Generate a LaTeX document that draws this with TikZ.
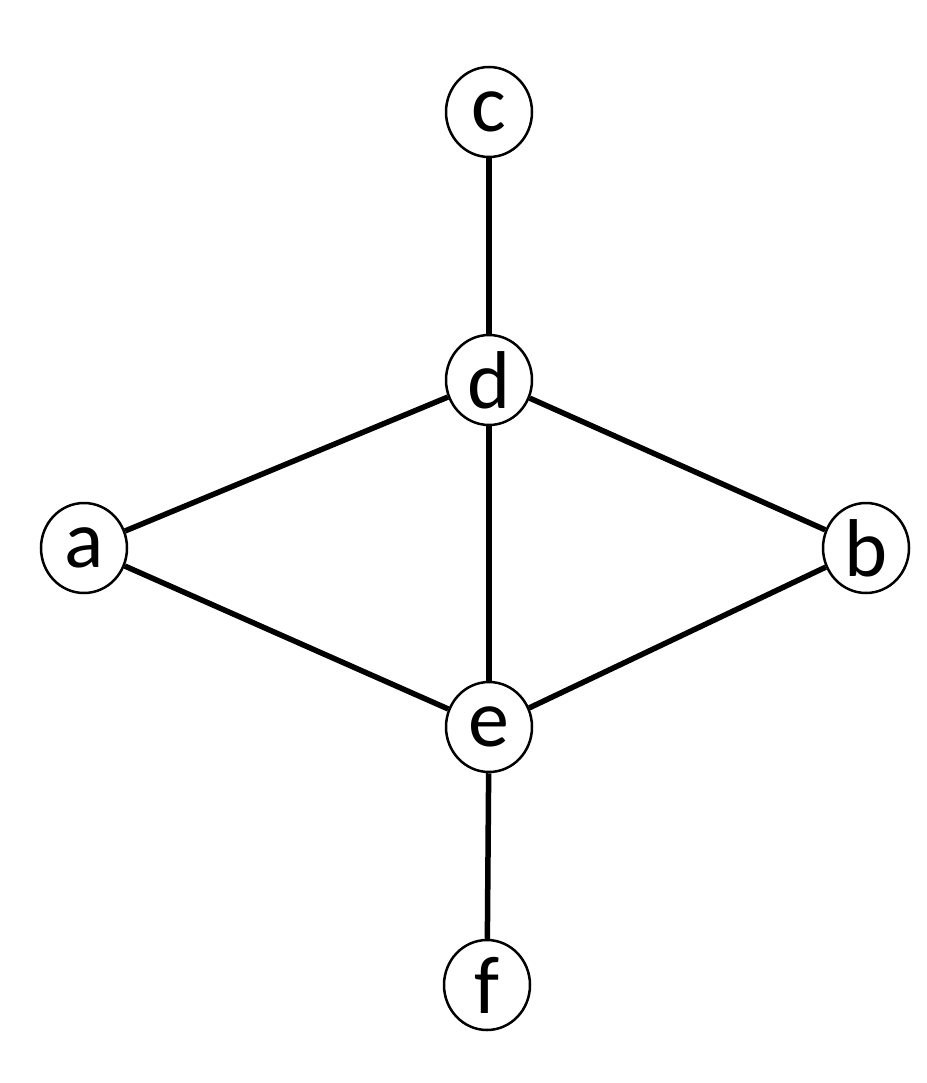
\documentclass[tikz,border=0pt]{standalone}
\usepackage{fontspec}
\setmainfont{Carlito}
\usetikzlibrary{shapes.geometric}
\begin{document}
\begin{tikzpicture}[x=1pt,y=-1pt,
  vtx/.style={draw,ellipse,line width=2.5pt,minimum width=86pt,minimum height=90pt,inner sep=0pt,font=\fontsize{82}{82}\selectfont},
  edge/.style={line width=5.5pt}]
\useasboundingbox (0,0) rectangle (926,1083);
\node[vtx] (c) at (489,112) {c};
\node[vtx] (d) at (489,380) {d};
\node[vtx] (a) at (84,548) {a};
\node[vtx] (b) at (866,548) {b};
\node[vtx] (e) at (489,727) {e};
\node[vtx] (f) at (487,985) {f};
\draw[edge] (c) -- (d);
\draw[edge] (d) -- (a);
\draw[edge] (d) -- (b);
\draw[edge] (d) -- (e);
\draw[edge] (a) -- (e);
\draw[edge] (b) -- (e);
\draw[edge] (e) -- (f);
\end{tikzpicture}
\end{document}
